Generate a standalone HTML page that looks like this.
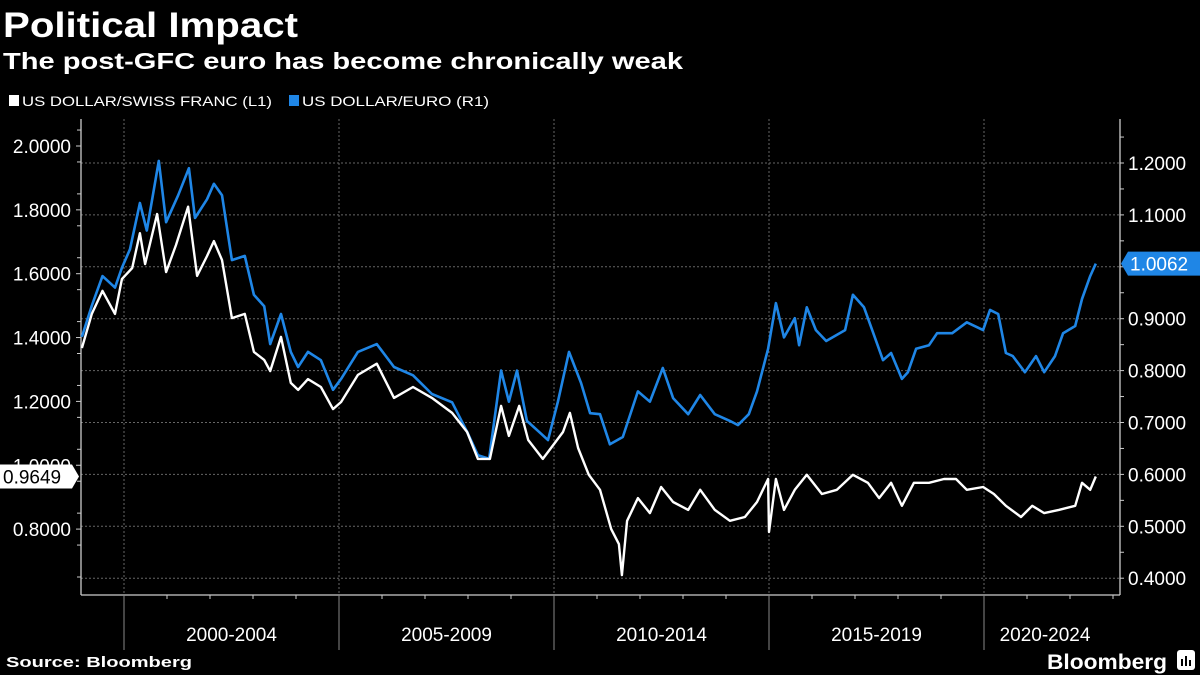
<!DOCTYPE html>
<html><head><meta charset="utf-8"><style>
html,body{margin:0;padding:0;background:#000;width:1200px;height:675px;overflow:hidden}
svg{display:block;font-family:"Liberation Sans",sans-serif}
</style></head><body>
<svg id="chart" width="1200" height="675" viewBox="0 0 1200 675">
<text x="3" y="37" fill="#fff" font-size="35" font-weight="bold" textLength="295" lengthAdjust="spacingAndGlyphs">Political Impact</text>
<text x="3" y="69" fill="#fff" font-size="23" font-weight="bold" textLength="680" lengthAdjust="spacingAndGlyphs">The post-GFC euro has become chronically weak</text>
<g>
<rect x="9" y="95" width="10" height="11" fill="#fff"/>
<text x="22" y="106" fill="#fff" font-size="14" textLength="250" lengthAdjust="spacingAndGlyphs">US DOLLAR/SWISS FRANC (L1)</text>
<rect x="289" y="95" width="10" height="11" fill="#1f86e6"/>
<text x="302" y="106" fill="#fff" font-size="14" textLength="187" lengthAdjust="spacingAndGlyphs">US DOLLAR/EURO (R1)</text>
</g>
<g id="grid"></g><g id="axes"></g><g id="series"></g><g id="labels"></g>
<text x="6" y="667" fill="#fff" font-size="15" font-weight="bold" textLength="186" lengthAdjust="spacingAndGlyphs">Source: Bloomberg</text>
<text x="1047" y="669" fill="#fff" font-size="21" font-weight="bold" textLength="120" lengthAdjust="spacingAndGlyphs">Bloomberg</text>
<g><rect x="1177" y="650" width="18" height="20" rx="3" fill="#fff"/><rect x="1181" y="659" width="2" height="7" fill="#000"/><rect x="1185" y="656" width="2" height="10" fill="#000"/><rect x="1189" y="660" width="2" height="6" fill="#000"/></g>
</svg>
<script>
const chfDates=[1999.02,1999.25,1999.5,1999.79,1999.95,2000.19,2000.37,2000.49,2000.77,2000.98,2001.21,2001.49,2001.7,2001.93,2002.09,2002.28,2002.51,2002.81,2003.02,2003.26,2003.4,2003.65,2003.88,2004.05,2004.28,2004.58,2004.86,2005.05,2005.44,2005.88,2006.28,2006.72,2007.16,2007.63,2007.98,2008.23,2008.51,2008.77,2008.95,2009.19,2009.4,2009.74,2009.93,2010.21,2010.37,2010.56,2010.81,2011.07,2011.33,2011.51,2011.58,2011.7,2011.95,2012.23,2012.49,2012.77,2013.12,2013.4,2013.74,2014.09,2014.44,2014.72,2014.98,2015.0,2015.16,2015.35,2015.6,2015.88,2016.23,2016.58,2016.95,2017.3,2017.56,2017.84,2018.09,2018.37,2018.72,2019.07,2019.35,2019.6,2019.98,2020.23,2020.51,2020.86,2021.12,2021.4,2021.74,2022.12,2022.28,2022.47,2022.6];
const chfValues=[1.367,1.474,1.546,1.474,1.583,1.618,1.727,1.63,1.787,1.605,1.69,1.81,1.593,1.655,1.702,1.643,1.461,1.474,1.355,1.33,1.295,1.402,1.258,1.236,1.27,1.245,1.176,1.198,1.283,1.318,1.211,1.245,1.211,1.164,1.104,1.02,1.02,1.186,1.092,1.186,1.079,1.02,1.054,1.104,1.164,1.054,0.97,0.923,0.80,0.753,0.656,0.826,0.897,0.85,0.932,0.885,0.86,0.923,0.86,0.826,0.838,0.885,0.957,0.791,0.957,0.86,0.923,0.97,0.91,0.923,0.97,0.945,0.897,0.945,0.873,0.945,0.945,0.957,0.957,0.923,0.932,0.91,0.873,0.838,0.873,0.85,0.86,0.873,0.945,0.923,0.9649];
const eurDates=[1999.02,1999.25,1999.5,1999.79,1999.95,2000.14,2000.37,2000.53,2000.81,2000.98,2001.26,2001.51,2001.65,2001.93,2002.09,2002.28,2002.51,2002.81,2003.02,2003.26,2003.4,2003.65,2003.88,2004.05,2004.28,2004.58,2004.86,2005.05,2005.44,2005.88,2006.28,2006.72,2007.16,2007.63,2007.98,2008.23,2008.49,2008.77,2008.95,2009.14,2009.37,2009.65,2009.86,2010.09,2010.35,2010.63,2010.84,2011.07,2011.3,2011.6,2011.95,2012.23,2012.53,2012.77,2013.12,2013.4,2013.74,2014.09,2014.28,2014.53,2014.72,2014.98,2015.16,2015.35,2015.6,2015.7,2015.88,2016.09,2016.33,2016.77,2016.95,2017.21,2017.4,2017.65,2017.84,2018.09,2018.23,2018.42,2018.72,2018.91,2019.26,2019.6,2019.98,2020.14,2020.33,2020.51,2020.67,2020.95,2021.21,2021.4,2021.65,2021.84,2022.12,2022.28,2022.47,2022.6];
const eurValues=[0.865,0.925,0.982,0.96,0.998,1.034,1.123,1.07,1.204,1.086,1.138,1.19,1.094,1.13,1.16,1.138,1.013,1.021,0.946,0.924,0.851,0.909,0.836,0.807,0.836,0.82,0.763,0.784,0.836,0.851,0.807,0.791,0.755,0.739,0.682,0.637,0.63,0.80,0.74,0.80,0.703,0.682,0.666,0.74,0.836,0.776,0.718,0.716,0.658,0.672,0.76,0.74,0.805,0.747,0.716,0.753,0.716,0.703,0.695,0.716,0.76,0.842,0.93,0.864,0.901,0.849,0.922,0.878,0.857,0.878,0.946,0.922,0.878,0.82,0.834,0.784,0.797,0.842,0.849,0.872,0.872,0.893,0.878,0.917,0.909,0.834,0.828,0.797,0.828,0.797,0.828,0.872,0.886,0.938,0.982,1.0062];
const leftTicks=[2.0,1.8,1.6,1.4,1.2,1.0,0.8];
const rightTicks=[1.2,1.1,1.0,0.9,0.8,0.7,0.6,0.5,0.4];
const periodLabels=["2000-2004","2005-2009","2010-2014","2015-2019","2020-2024"];
const periodStarts=[2000,2005,2010,2015,2020];

const NS="http://www.w3.org/2000/svg";
const X0=81,X1=1120,YT=119,YB=595;
const xs=yr=>81+(yr-1999)*43;
const yL=v=>146+(2.0-v)*319.25;
const yR=v=>163+(1.2-v)*519;
function mk(tag,attrs,parent){const e=document.createElementNS(NS,tag);for(const k in attrs)e.setAttribute(k,attrs[k]);parent.appendChild(e);return e;}
const grid=document.getElementById('grid'),axes=document.getElementById('axes'),series=document.getElementById('series'),labels=document.getElementById('labels');

rightTicks.forEach(v=>{
  const l=mk('line',{x1:X0,x2:X1,y1:yR(v),y2:yR(v),stroke:'#666','stroke-dasharray':'2,2','stroke-width':1},grid);
  
  
});
periodStarts.forEach(yr=>{
  const l=mk('line',{x1:xs(yr),x2:xs(yr),y1:YT,y2:YB,stroke:'#666','stroke-dasharray':'2,2','stroke-width':1},grid);
  
  
});
const la=mk('line',{x1:X0,x2:X0,y1:YT,y2:YB,stroke:'#ccc','stroke-width':1.3},axes);


const ra=mk('line',{x1:X1,x2:X1,y1:YT,y2:YB,stroke:'#ccc','stroke-width':1.3},axes);


const ba=mk('line',{x1:X0,x2:X1,y1:YB,y2:YB,stroke:'#ccc','stroke-width':1.3},axes);


for(let v=2.05;v>0.6;v-=0.1){const y=yL(v);if(y<YT||y>YB)continue;
  mk('line',{x1:X0-4,x2:X0,y1:y,y2:y,stroke:'#ccc'},axes);}
leftTicks.forEach(v=>{mk('line',{x1:X0-5,x2:X0,y1:yL(v),y2:yL(v),stroke:'#ccc'},axes);});
for(let v=1.25;v>0.35;v-=0.05){const y=yR(v);if(y<YT||y>YB)continue;
  mk('line',{x1:X1,x2:X1+4,y1:y,y2:y,stroke:'#ccc'},axes);}
for(let yr=2000;yr<=2023;yr++){mk('line',{x1:xs(yr),x2:xs(yr),y1:YB,y2:YB+4,stroke:'#ccc'},axes);}
periodStarts.forEach(yr=>{mk('line',{x1:xs(yr),x2:xs(yr),y1:YB,y2:650,stroke:'#888'},axes);});
leftTicks.forEach(v=>{
  const t=mk('text',{x:71,y:yL(v)+7,fill:'#fff','font-size':19,'text-anchor':'end'},labels);
  t.textContent=v.toFixed(4);
  
  
});
rightTicks.forEach(v=>{
  const t=mk('text',{x:1128,y:yR(v)+7,fill:'#fff','font-size':19},labels);
  t.textContent=v.toFixed(4);
  
  
});
periodLabels.forEach((s,i)=>{
  const cx=(xs(periodStarts[i])+Math.min(xs(periodStarts[i]+5),X1))/2;
  const t=mk('text',{x:i==4?1045:cx,y:641,fill:'#fff','font-size':19,'text-anchor':'middle'},labels);
  t.textContent=s;
  
  
});
function path(d,v,yf){return d.map((t,i)=>(i?'L':'M')+xs(t).toFixed(1)+','+yf(v[i]).toFixed(1)).join('');}
const pe=mk('path',{d:path(eurDates,eurValues,yR),fill:'none',stroke:'#1f86e6','stroke-width':2.6,'stroke-linejoin':'round'},series);


const pc=mk('path',{d:path(chfDates,chfValues,yL),fill:'none',stroke:'#fff','stroke-width':2.4,'stroke-linejoin':'round'},series);


const lc=chfValues[chfValues.length-1],yc=yL(lc);
const gc=mk('g',{},labels);


mk('path',{d:`M0,${yc-12}L72,${yc-12}L79,${yc}L72,${yc+12}L0,${yc+12}Z`,fill:'#fff'},gc);
mk('text',{x:3,y:yc+7,fill:'#000','font-size':19}, gc).textContent=lc.toFixed(4);
const le=eurValues[eurValues.length-1],ye=yR(le);
const ge=mk('g',{},labels);


mk('path',{d:`M1121,${ye}L1128,${ye-12}L1200,${ye-12}L1200,${ye+12}L1128,${ye+12}Z`,fill:'#1f86e6'},ge);
mk('text',{x:1130,y:ye+7,fill:'#fff','font-size':19},ge).textContent=le.toFixed(4);
</script>
</body></html>
